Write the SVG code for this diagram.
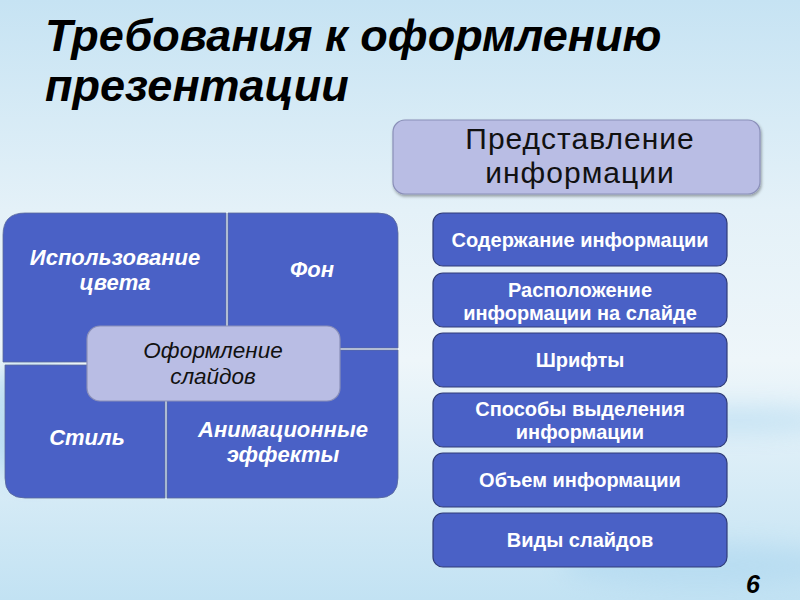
<svg xmlns="http://www.w3.org/2000/svg" width="800" height="600" viewBox="0 0 800 600">
  <defs>
    <linearGradient id="bg" x1="0" y1="0" x2="0" y2="1">
      <stop offset="0" stop-color="#c6e3f3"/>
      <stop offset="0.35" stop-color="#e4f1f8"/>
      <stop offset="0.6" stop-color="#eef6fa"/>
      <stop offset="1" stop-color="#c2e2f3"/>
    </linearGradient>
    <filter id="blur" x="-20%" y="-50%" width="140%" height="200%">
      <feGaussianBlur stdDeviation="12"/>
    </filter>
    <filter id="shadow" x="-10%" y="-10%" width="120%" height="130%">
      <feDropShadow dx="1" dy="2" stdDeviation="1.5" flood-color="#000" flood-opacity="0.35"/>
    </filter>
  </defs>
  <style>
    .title { font-family: "Liberation Sans", Arial, sans-serif; font-weight: bold; font-style: italic; font-size: 45px; fill: #000; }
    .quad { fill: #4a61c6; stroke: #5a6a9a; stroke-width: 0.8; }
    .lav { fill: #b9bde4; stroke: #8a8fb8; stroke-width: 1.2; }
    .box { fill: #4a61c6; stroke: #303c78; stroke-width: 1.2; }
    .qt { font-family: "Liberation Sans", Arial, sans-serif; font-weight: bold; font-style: italic; font-size: 22px; fill: #fff; text-anchor: middle; }
    .ct { font-family: "Liberation Sans", Arial, sans-serif; font-style: italic; font-size: 22.5px; fill: #111; text-anchor: middle; }
    .ht { font-family: "Liberation Sans", Arial, sans-serif; font-size: 30px; letter-spacing: 1px; fill: #111; text-anchor: middle; }
    .bt { font-family: "Liberation Sans", Arial, sans-serif; font-weight: bold; font-size: 20px; fill: #fff; text-anchor: middle; }
  </style>

  <rect x="0" y="0" width="800" height="600" fill="url(#bg)"/>
  <g opacity="0.45" filter="url(#blur)">
    <ellipse cx="30" cy="420" rx="50" ry="60" fill="#8cc6ea"/>
    <ellipse cx="740" cy="420" rx="100" ry="12" fill="#9fd0ee"/>
    <ellipse cx="700" cy="565" rx="140" ry="22" fill="#a6d3ee"/>
  </g>

  <g id="title">
    <text class="title" x="45" y="51">Требования к оформлению</text>
    <text class="title" x="45" y="101">презентации</text>
  </g>

  <g id="matrix">
    <g id="q-color">
      <path class="quad" d="M3,235 Q3,213 25,213 L226,213 L226,362 L3,362 Z"/>
      <text class="qt" x="115" y="265">Использование</text>
      <text class="qt" x="115" y="290">цвета</text>
    </g>
    <g id="q-bg">
      <path class="quad" d="M228,213 L378,213 Q398,213 398,233 L398,348 L228,348 Z"/>
      <text class="qt" x="312" y="277">Фон</text>
    </g>
    <g id="q-style">
      <path class="quad" d="M5,365 L165,365 L165,498 L25,498 Q5,498 5,478 Z"/>
      <text class="qt" x="87" y="445">Стиль</text>
    </g>
    <g id="q-anim">
      <path class="quad" d="M167,350 L398,350 L398,478 Q398,498 378,498 L167,498 Z"/>
      <text class="qt" x="283" y="437">Анимационные</text>
      <text class="qt" x="283" y="462">эффекты</text>
    </g>
    <g id="center">
      <rect class="lav" x="87" y="326" width="253" height="75" rx="13"/>
      <text class="ct" x="213" y="358">Оформление</text>
      <text class="ct" x="213" y="384">слайдов</text>
    </g>
  </g>

  <g id="header">
    <rect class="lav" x="393" y="120" width="367" height="74" rx="12" filter="url(#shadow)"/>
    <text class="ht" x="580" y="149">Представление</text>
    <text class="ht" x="580" y="183">информации</text>
  </g>

  <g id="list">
    <g id="b1">
      <rect class="box" x="433" y="213" width="294" height="53" rx="10"/>
      <text class="bt" x="580" y="247">Содержание информации</text>
    </g>
    <g id="b2">
      <rect class="box" x="433" y="273" width="294" height="54" rx="10"/>
      <text class="bt" x="580" y="297">Расположение</text>
      <text class="bt" x="580" y="320">информации на слайде</text>
    </g>
    <g id="b3">
      <rect class="box" x="433" y="333" width="294" height="54" rx="10"/>
      <text class="bt" x="580" y="367">Шрифты</text>
    </g>
    <g id="b4">
      <rect class="box" x="433" y="393" width="294" height="54" rx="10"/>
      <text class="bt" x="580" y="416">Способы выделения</text>
      <text class="bt" x="580" y="439">информации</text>
    </g>
    <g id="b5">
      <rect class="box" x="433" y="453" width="294" height="54" rx="10"/>
      <text class="bt" x="580" y="487">Объем информации</text>
    </g>
    <g id="b6">
      <rect class="box" x="433" y="513" width="294" height="54" rx="10"/>
      <text class="bt" x="580" y="547">Виды слайдов</text>
    </g>
  </g>

  <g id="connectors"></g>

  <text x="746" y="593" font-family="Liberation Sans, Arial, sans-serif" font-weight="bold" font-style="italic" font-size="25" fill="#000">6</text>
</svg>
